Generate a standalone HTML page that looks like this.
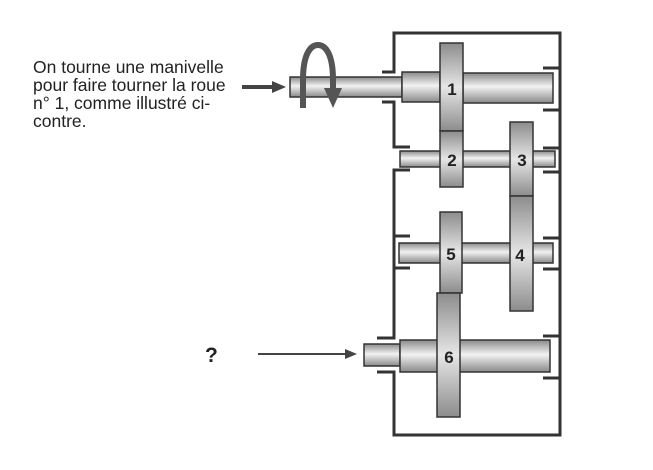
<!DOCTYPE html>
<html><head><meta charset="utf-8"><style>
html,body{margin:0;padding:0;background:#fff;width:653px;height:470px;overflow:hidden}
svg{display:block}
</style></head><body>
<svg width="653" height="470" viewBox="0 0 653 470" xmlns="http://www.w3.org/2000/svg">
<defs>
<linearGradient id="h" x1="0" y1="0" x2="0" y2="1">
<stop offset="0" stop-color="#8a8a8a"/><stop offset="0.45" stop-color="#f2f2f2"/><stop offset="1" stop-color="#8a8a8a"/>
</linearGradient>
<linearGradient id="v" x1="0" y1="0" x2="0" y2="1">
<stop offset="0" stop-color="#8c8c8c"/><stop offset="0.5" stop-color="#e6e6e6"/><stop offset="1" stop-color="#8c8c8c"/>
</linearGradient>
</defs>
<g font-family="Liberation Sans, sans-serif" font-size="17.5" fill="#222">
<text x="33" y="73">On tourne une manivelle</text>
<text x="33" y="91">pour faire tourner la roue</text>
<text x="33" y="109">n° 1, comme illustré ci-</text>
<text x="33" y="127">contre.</text>
<text x="205" y="362" font-size="21" font-weight="bold">?</text>
</g>
<g stroke="#333" stroke-width="3" fill="none">
<polyline points="382,72 394,72 394,33 560,33 560,435 394,435 394,372 377,372"/>
<polyline points="382,102 394,102 394,147 410,147"/>
<polyline points="410,170 394,170 394,338 377,338"/>
<line x1="543" y1="68" x2="560" y2="68"/>
<line x1="543" y1="110" x2="560" y2="110"/>
<line x1="543" y1="148" x2="560" y2="148"/>
<line x1="543" y1="172" x2="560" y2="172"/>
<line x1="395" y1="236" x2="410" y2="236"/>
<line x1="395" y1="268" x2="410" y2="268"/>
<line x1="543" y1="238" x2="560" y2="238"/>
<line x1="543" y1="269" x2="560" y2="269"/>
<line x1="543" y1="336" x2="560" y2="336"/>
<line x1="543" y1="378" x2="560" y2="378"/>
</g>
<g stroke="#333" stroke-width="1.5">
<rect x="290" y="77" width="112" height="20" fill="url(#h)"/>
<rect x="402" y="72" width="38" height="30" fill="url(#h)"/>
<rect x="463" y="73" width="90" height="30" fill="url(#h)"/>
<rect x="400" y="151" width="155" height="16" fill="url(#h)"/>
<rect x="399" y="243" width="154" height="20" fill="url(#h)"/>
<rect x="364" y="344" width="36" height="22" fill="url(#h)"/>
<rect x="400" y="340" width="150" height="32" fill="url(#h)"/>
<rect x="440" y="43" width="23" height="88" fill="url(#v)"/>
<rect x="440" y="131" width="23" height="56" fill="url(#v)"/>
<rect x="510" y="122" width="23" height="74" fill="url(#v)"/>
<rect x="510" y="196" width="23" height="115" fill="url(#v)"/>
<rect x="440" y="212" width="22" height="81" fill="url(#v)"/>
<rect x="437" y="293" width="23" height="124" fill="url(#v)"/>
</g>
<g font-family="Liberation Sans, sans-serif" font-size="17" font-weight="bold" fill="#222" text-anchor="middle">
<text x="452" y="95">1</text>
<text x="452" y="166">2</text>
<text x="522" y="166">3</text>
<text x="520" y="261">4</text>
<text x="451" y="260">5</text>
<text x="449" y="363">6</text>
</g>
<g fill="#444" stroke="#444">
<line x1="242" y1="87" x2="275" y2="87" stroke-width="4"/>
<polygon points="272,81 286,87 272,93" stroke="none"/>
<line x1="258" y1="354" x2="348" y2="354" stroke-width="2"/>
<polygon points="345,349 357,354 345,359" stroke="none"/>
</g>
<path d="M303,108 L303,80 C303,55 310,45 318,45 C326,45 333,55 333,80 L333,90" fill="none" stroke="#555" stroke-width="6"/>
<polygon points="324,88 342,88 333,108" fill="#555"/>
</svg>
</body></html>
